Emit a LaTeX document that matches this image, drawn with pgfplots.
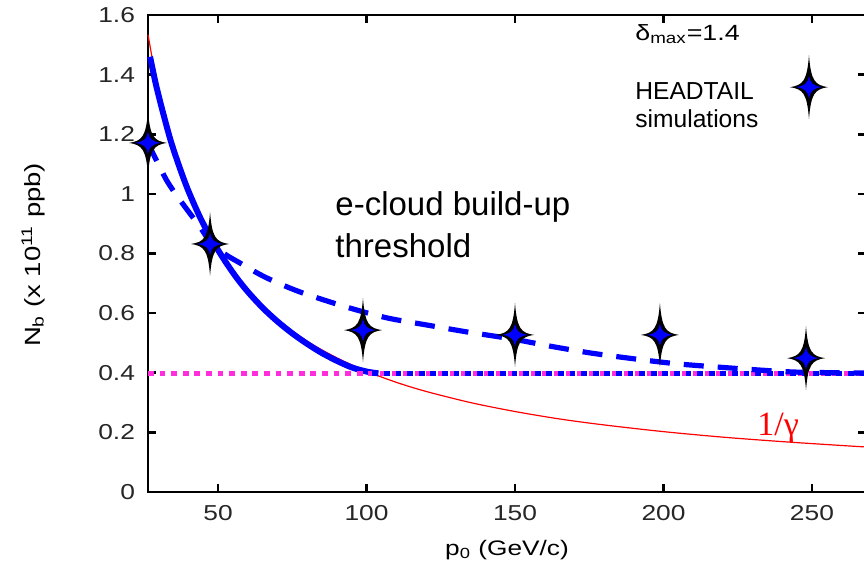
\documentclass[border=0pt]{standalone}
\usepackage{pgfplots}
\pgfplotsset{compat=1.18}
\usepackage{fontspec}
\setmainfont{Liberation Sans}
\newfontfamily\tickfont[FakeStretch=1.22]{Liberation Sans}
\newfontfamily\labfont[FakeStretch=1.25]{Liberation Sans}
\newfontfamily\seriffont{Liberation Serif}
\definecolor{pblue}{RGB}{0,0,255}
\definecolor{pmag}{RGB}{255,45,220}
\pgfdeclareplotmark{hstar}{%
  \pgfscope
  \pgfsetfillcolor{black}
  \pgfpathmoveto{\pgfqpoint{9.5pt}{0pt}}
  \pgfpathcurveto{\pgfqpoint{3pt}{1pt}}{\pgfqpoint{1pt}{3pt}}{\pgfqpoint{0pt}{16pt}}
  \pgfpathcurveto{\pgfqpoint{-1pt}{3pt}}{\pgfqpoint{-3pt}{1pt}}{\pgfqpoint{-9.5pt}{0pt}}
  \pgfpathcurveto{\pgfqpoint{-3pt}{-1pt}}{\pgfqpoint{-1pt}{-3pt}}{\pgfqpoint{0pt}{-16pt}}
  \pgfpathcurveto{\pgfqpoint{1pt}{-3pt}}{\pgfqpoint{3pt}{-1pt}}{\pgfqpoint{9.5pt}{0pt}}
  \pgfpathclose
  \pgfusepath{fill}
  \pgfsetfillcolor{pblue}
  \pgfpathmoveto{\pgfqpoint{6.3pt}{0pt}}
  \pgfpathcurveto{\pgfqpoint{2pt}{0.7pt}}{\pgfqpoint{0.7pt}{2pt}}{\pgfqpoint{0pt}{5.5pt}}
  \pgfpathcurveto{\pgfqpoint{-0.7pt}{2pt}}{\pgfqpoint{-2pt}{0.7pt}}{\pgfqpoint{-6.3pt}{0pt}}
  \pgfpathcurveto{\pgfqpoint{-2pt}{-0.7pt}}{\pgfqpoint{-0.7pt}{-2pt}}{\pgfqpoint{0pt}{-5.5pt}}
  \pgfpathcurveto{\pgfqpoint{0.7pt}{-2pt}}{\pgfqpoint{2pt}{-0.7pt}}{\pgfqpoint{6.3pt}{0pt}}
  \pgfpathclose
  \pgfusepath{fill}
  \endpgfscope
}
\begin{document}
\begin{tikzpicture}
\clip (-74pt,-39pt) rectangle (358pt,246pt);
\begin{axis}[
  at={(0,0)}, anchor=south west,
  scale only axis, width=359pt, height=238.5pt,
  xmin=26.4, xmax=268.2, ymin=0, ymax=1.6,
  clip=false,
  axis line style={line width=1.4pt},
  every tick/.style={line width=1.3pt, black},
  tick align=inside, major tick length=4pt,
  xtick={50,100,150,200,250},
  ytick={0,0.2,0.4,0.6,0.8,1,1.2,1.4,1.6},
  /pgf/number format/assume math mode=true,
  tick label style={font=\tickfont\fontsize{10.8}{12}\selectfont, text=black!85},
  yticklabel style={xshift=-3pt},
  xticklabel style={yshift=-3pt},
  xlabel={p\textsubscript{0} (GeV/c)},
  ylabel={N\textsubscript{b} (x 10\textsuperscript{11} ppb)},
  xlabel style={font=\labfont\fontsize{10.5}{12}\selectfont, at={(axis description cs:0.5,-0.122)}, anchor=center},
  ylabel style={font=\labfont\fontsize{11}{12}\selectfont, at={(axis description cs:-0.16,0.497)}, anchor=center},
]
% 1/gamma curve
\addplot[red, line width=0.6pt, smooth] coordinates {
(26.4,1.534) (28,1.446) (30,1.35) (33,1.227) (36,1.125) (40,1.0125) (45,0.9) (50,0.81) (55,0.736) (60,0.675) (70,0.579) (80,0.506) (90,0.45) (100,0.405) (110,0.368) (120,0.3375) (135,0.3) (150,0.27) (165,0.245) (180,0.225) (200,0.2025) (220,0.184) (240,0.169) (260,0.156) (268.2,0.151)};
% blue solid
\addplot[pblue, line width=3pt, smooth] coordinates {
(27.1,1.46) (29,1.37) (31,1.29) (34,1.18) (37,1.09) (40,1.01) (44,0.92) (48,0.845) (52,0.78) (56,0.722) (60,0.672) (65,0.618) (70,0.572) (75,0.532) (80,0.497) (85,0.466) (90,0.440) (95,0.418) (100,0.404) (104,0.398)};
% threshold line 0.4
\addplot[pmag, line width=2.2pt, dash pattern=on 2.9pt off 2.9pt] coordinates {(26.4,0.397) (268.2,0.397)};
\addplot[pblue, line width=2.2pt, dash pattern=on 2.9pt off 2.9pt, dash phase=2.9pt] coordinates {(100,0.397) (268.2,0.397)};
% blue dashed fit
\addplot[pblue, line width=2.6pt, dash pattern=on 10pt off 7pt, smooth] coordinates {
(26.4,1.171) (29.5,1.107) (33,1.04) (37.2,0.979) (43.9,0.889) (47.3,0.840) (52,0.80) (57.4,0.768) (66,0.72) (77.6,0.671) (93.4,0.620) (106.9,0.584) (120.4,0.560) (133.8,0.537) (149.3,0.513) (162.5,0.488) (176.3,0.465) (190.7,0.446) (204.5,0.430) (218.4,0.419) (232.5,0.409) (245.3,0.402) (268.2,0.399)};
% HEADTAIL simulations
\addplot[only marks, mark=hstar] coordinates {
(26.4,1.171) (47.3,0.832) (98.8,0.543) (150,0.527) (198.8,0.527) (248,0.449)};
% legend star
\addplot[only marks, mark=hstar] coordinates {(249,1.358)};
\node[anchor=base west, inner sep=0pt, font=\tickfont\fontsize{11}{12}\selectfont] at (axis cs:190.4,1.516) {δ\textsubscript{max}=1.4};
\node[anchor=base west, inner sep=0pt, font=\fontsize{12.3}{14}\selectfont] at (axis cs:190.4,1.315) {HEADTAIL};
\node[anchor=base west, inner sep=0pt, font=\fontsize{12.3}{14}\selectfont] at (axis cs:190.4,1.221) {simulations};
\node[anchor=base west, inner sep=0pt, font=\fontsize{16.5}{20}\selectfont] at (axis cs:89.4,0.929) {e-cloud build-up};
\node[anchor=base west, inner sep=0pt, font=\fontsize{16.5}{20}\selectfont] at (axis cs:89.4,0.788) {threshold};
\node[anchor=base west, inner sep=0pt, text=red, font=\seriffont\fontsize{17}{18}\selectfont] at (axis cs:231.5,0.19) {1/γ};
\end{axis}
\end{tikzpicture}
\end{document}
